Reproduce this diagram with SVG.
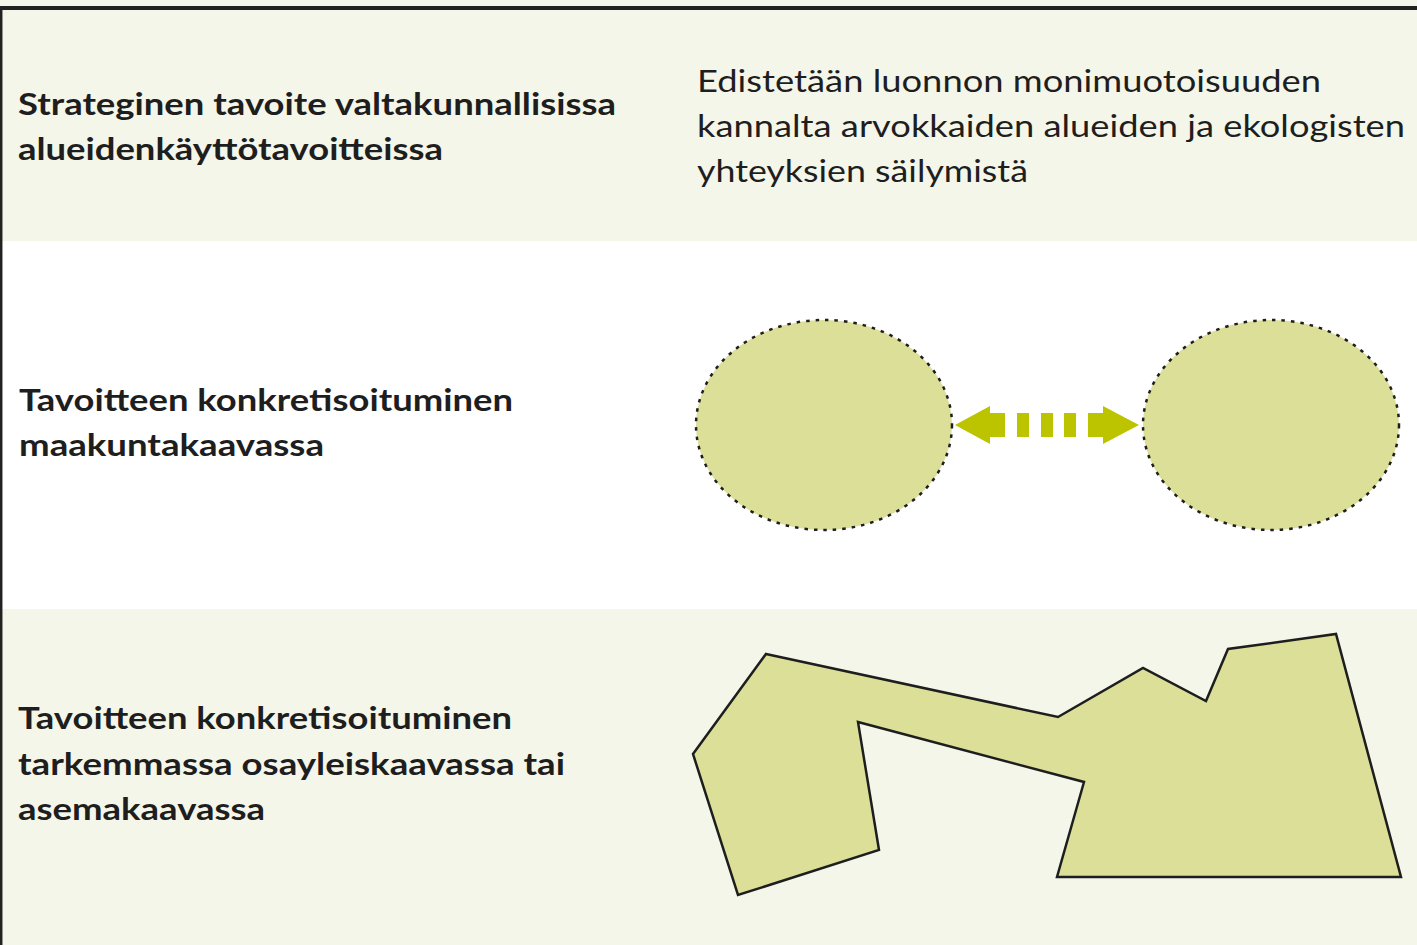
<svg xmlns="http://www.w3.org/2000/svg" width="1417" height="945" viewBox="0 0 1417 945">
<style>
.lbl{font-family:Lato,"Open Sans","Liberation Sans",sans-serif;font-weight:bold;font-size:31px;fill:#1e1e1e}
.txt{font-family:Lato,"Open Sans","Liberation Sans",sans-serif;font-size:31px;fill:#1e1e1e}
.area{fill:#dbdf97;stroke:#1e1e1e;stroke-width:2.5}
.eco{fill:#dbdf97;stroke:#1e1e1e;stroke-width:2.5;stroke-dasharray:3.5 6}
.arr{fill:#bcc400}
</style>
<rect x="0" y="0" width="1417" height="945" fill="#ffffff"/>
<rect x="0" y="0" width="1417" height="241" fill="#f5f6ea"/>
<rect x="0" y="609" width="1417" height="336" fill="#f5f6ea"/>
<line x1="0" y1="8" x2="1417" y2="8" stroke="#222" stroke-width="4"/>
<line x1="1.2" y1="8" x2="1.2" y2="945" stroke="#222" stroke-width="2.5"/>

<g id="row1">
<text class="lbl" x="18" y="115" textLength="598" lengthAdjust="spacingAndGlyphs">Strateginen tavoite valtakunnallisissa</text>
<text class="lbl" x="18" y="160" textLength="425" lengthAdjust="spacingAndGlyphs">alueidenkäyttötavoitteissa</text>
<text class="txt" x="697" y="92" textLength="624" lengthAdjust="spacingAndGlyphs">Edistetään luonnon monimuotoisuuden</text>
<text class="txt" x="697" y="137" textLength="708" lengthAdjust="spacingAndGlyphs">kannalta arvokkaiden alueiden ja ekologisten</text>
<text class="txt" x="697" y="182" textLength="331" lengthAdjust="spacingAndGlyphs">yhteyksien säilymistä</text>
</g>

<g id="row2">
<text class="lbl" x="19" y="411" textLength="494" lengthAdjust="spacingAndGlyphs">Tavoitteen konkretisoituminen</text>
<text class="lbl" x="19" y="456" textLength="305" lengthAdjust="spacingAndGlyphs">maakuntakaavassa</text>
</g>
<g id="area-left"><ellipse class="eco" cx="824" cy="425" rx="128" ry="105"/></g>
<g id="area-right"><ellipse class="eco" cx="1271" cy="425" rx="128" ry="105"/></g>

<g id="connectors">
<polygon class="arr" points="955,425 990,406 990,413 1005,413 1005,437 990,437 990,444"/>
<rect class="arr" x="1017" y="413" width="12" height="24"/>
<rect class="arr" x="1041" y="413" width="12" height="24"/>
<rect class="arr" x="1064" y="413" width="12" height="24"/>
<polygon class="arr" points="1139,425 1103,406 1103,413 1088,413 1088,437 1103,437 1103,444"/>
</g>

<g id="row3">
<text class="lbl" x="18" y="729" textLength="494" lengthAdjust="spacingAndGlyphs">Tavoitteen konkretisoituminen</text>
<text class="lbl" x="18" y="775" textLength="547" lengthAdjust="spacingAndGlyphs">tarkemmassa osayleiskaavassa tai</text>
<text class="lbl" x="18" y="820" textLength="247" lengthAdjust="spacingAndGlyphs">asemakaavassa</text>
</g>
<g id="plan-area">
<polygon class="area" stroke-linejoin="miter" points="766,654 1058,717 1143,668 1206,701 1228,649 1336,634 1401,877 1057,877 1084,782 858,722 879,850 738,895 693,754"/>
</g>
</svg>
